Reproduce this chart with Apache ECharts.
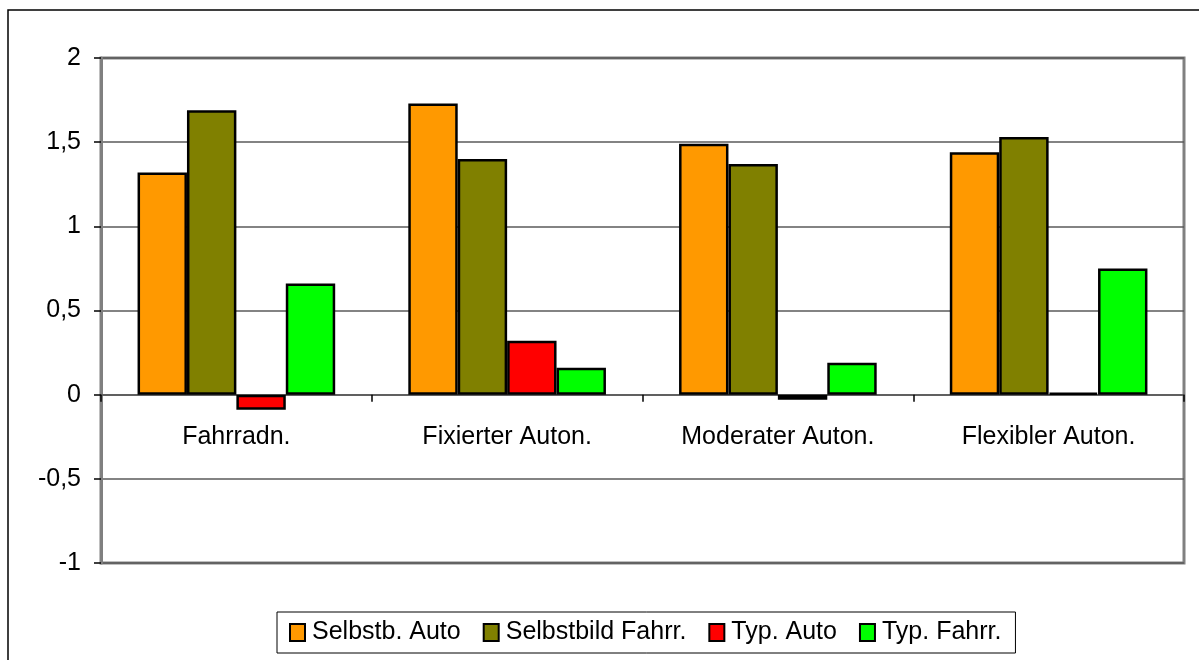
<!DOCTYPE html>
<html>
<head>
<meta charset="utf-8">
<script src="https://cdn.jsdelivr.net/npm/echarts@6/dist/echarts.min.js"></script>
<style>
  html, body { margin: 0; padding: 0; background: #fff; }
  #chart { width: 1199px; height: 660px; }
</style>
</head>
<body>
<div id="chart"></div>
<script>
var categories = ['Fahrradn.', 'Fixierter Auton.', 'Moderater Auton.', 'Flexibler Auton.'];
var seriesNames = ['Selbstb. Auto', 'Selbstbild Fahrr.', 'Typ. Auto', 'Typ. Fahrr.'];
var selbstbAuto = [1.32, 1.73, 1.49, 1.44];
var selbstbildFahrr = [1.69, 1.40, 1.37, 1.53];
var typAuto = [-0.09, 0.32, -0.03, 0.01];
var typFahrr = [0.66, 0.16, 0.19, 0.75];
var colors = ['#FF9900', '#808000', '#FF0000', '#00FF00'];

var FONT = 'Liberation Sans, Arial, sans-serif';

var myChart = echarts.init(document.getElementById('chart'));

// plot area: 58..563, y from -1 to 2 -> zero line sits 1/3 of the height above the bottom
var gridTop = 58, gridHeight = 505;
var zeroOffset = -gridHeight / 3;

var values = [selbstbAuto, selbstbildFahrr, typAuto, typFahrr];
var series = [];
for (var n = 0; n < values.length; n++) {
    series.push({
        name: seriesNames[n],
        type: 'bar',
        data: values[n],
        barGap: '0%',
        barCategoryGap: '27%',
        itemStyle: {
            color: colors[n],
            borderColor: '#000',
            borderWidth: 2.5
        }
    });
}

var option = {
    animation: false,
    backgroundColor: '#fff',
    graphic: [{
        type: 'rect',
        z: -10,
        shape: { x: 8, y: 10, width: 1220, height: 700 },
        style: { fill: 'none', stroke: '#000', lineWidth: 1.5 }
    }],
    grid: {
        left: 101,
        top: gridTop,
        width: 1083,
        height: gridHeight,
        show: true,
        borderColor: '#808080',
        borderWidth: 3,
        backgroundColor: 'transparent'
    },
    legend: {
        data: seriesNames,
        left: 277,
        top: 612,
        padding: [8, 14, 8, 12],
        itemGap: 22,
        itemWidth: 15,
        itemHeight: 17,
        icon: 'rect',
        borderColor: '#000',
        borderWidth: 1,
        textStyle: {
            fontFamily: FONT,
            fontSize: 25,
            color: '#000',
            padding: [0, 0, 0, 2]
        }
    },
    xAxis: {
        type: 'category',
        data: categories,
        offset: zeroOffset,
        axisLine: { onZero: false, lineStyle: { color: '#555', width: 1.5 } },
        axisTick: { show: true, length: 7, lineStyle: { color: '#000', width: 1.5 } },
        axisLabel: {
            margin: 30,
            fontFamily: FONT,
            fontSize: 25,
            color: '#000'
        }
    },
    yAxis: {
        type: 'value',
        min: -1,
        max: 2,
        interval: 0.5,
        axisLine: { show: true, lineStyle: { color: '#808080', width: 3 } },
        axisTick: { show: true, length: 7, lineStyle: { color: '#000', width: 1.5 } },
        splitLine: { show: true, lineStyle: { color: '#5a5a5a', width: 1.5 } },
        axisLabel: {
            margin: 20,
            fontFamily: FONT,
            fontSize: 25,
            color: '#000',
            formatter: function (v) { return String(v).replace('.', ','); }
        }
    },
    series: series
};

myChart.setOption(option);
</script>
</body>
</html>
